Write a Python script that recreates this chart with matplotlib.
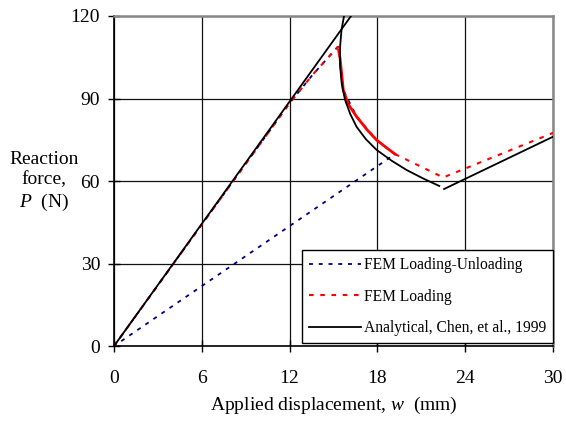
import matplotlib
matplotlib.use('Agg')
import matplotlib.pyplot as plt

plt.rcParams['font.family'] = ['Liberation Serif', 'DejaVu Serif']
plt.rcParams['mathtext.fontset'] = 'custom'
plt.rcParams['mathtext.it'] = 'Liberation Serif:italic'
plt.rcParams['mathtext.rm'] = 'Liberation Serif'

# FEM loading-unloading (loads along the loading path, unloads linearly)
lu_w = [0.0, 6.0, 12.0, 13.6, 15.3, 15.45, 15.67, 16.58, 17.95, 19.2, 0.0]
lu_p = [0.0, 44.2, 88.3, 98.8, 108.8, 104.6, 93.1, 83.4, 74.9, 69.8, 0.0]

# FEM loading
load_w = [0.0, 6.0, 12.0, 13.6, 15.3, 15.35, 15.45, 15.67, 16.0, 16.58, 17.3, 17.95, 18.6, 19.2,
          22.5, 30.0]
load_p = [0.0, 44.2, 88.3, 98.8, 108.8, 107.5, 104.6, 93.1, 88.0, 83.4, 78.6, 74.9, 72.2, 69.8,
          61.3, 77.5]
dense_from, dense_to = 5, 13  # points drawn so densely they look solid

# Analytical, Chen et al., 1999
lin_w = [0.0, 16.2]
lin_p = [0.0, 120.0]
unl_w = [15.72, 15.55, 15.45, 15.45, 15.56, 15.79, 16.15, 16.58, 17.2, 17.95, 19.0, 20.0, 21.1, 22.23]
unl_p = [120.0, 115.0, 108.8, 102.0, 95.5, 89.5, 84.3, 79.7, 75.3, 71.3, 67.3, 64.0, 61.0, 58.2]
rel_w = [22.56, 30.0]
rel_p = [57.1, 76.1]

fig = plt.figure(figsize=(5.66, 4.21), dpi=100)
ax = fig.add_axes([0.2014, 0.178, 0.7756, 0.784])

ax.grid(True, color='#111111', linewidth=0.9, zorder=0)
ax.set_axisbelow(True)

ax.plot(lu_w, lu_p, color='#000080', linestyle=(0, (2.2, 3.2)), linewidth=1.3, zorder=2,
        label='FEM Loading-Unloading')
ax.plot(load_w[:dense_from + 1], load_p[:dense_from + 1], color='red', linestyle=(0, (2.2, 3.2)),
        linewidth=1.5, zorder=3, label='FEM Loading')
ax.plot(load_w[dense_from:dense_to + 1], load_p[dense_from:dense_to + 1], color='red',
        linewidth=2.0, zorder=3)
ax.plot(load_w[dense_to:], load_p[dense_to:], color='red', linestyle=(0, (2.2, 3.2)),
        linewidth=1.5, zorder=3)
ax.plot(lin_w, lin_p, color='black', linewidth=1.3, zorder=4,
        label='Analytical, Chen, et al., 1999')
ax.plot(unl_w, unl_p, color='black', linewidth=1.3, zorder=4)
ax.plot(rel_w, rel_p, color='black', linewidth=1.3, zorder=4)

ax.set_xlim(0, 30)
ax.set_ylim(0, 120)
ax.set_xticks([0, 6, 12, 18, 24, 30])
ax.set_yticks([0, 30, 60, 90, 120])
ax.tick_params(direction='inout', length=8, width=1, labelsize=14, pad=6)
ax.tick_params(axis='x', pad=13)

for s in ['top', 'right']:
    ax.spines[s].set_color('#888888')
    ax.spines[s].set_linewidth(1.8)
for s in ['left', 'bottom']:
    ax.spines[s].set_color('black')
    ax.spines[s].set_linewidth(1.2)

ax.set_xlabel(r'Applied displacement, $w$  (mm)', fontsize=14, labelpad=6)
fig.text(0.078, 0.568, 'Reaction\nforce,\n' + r'$P$  (N)', fontsize=14, ha='center', va='center',
         linespacing=1.25)

leg = ax.legend(loc='lower right', bbox_to_anchor=(1.0, 0.008), fontsize=11.2, frameon=True,
                fancybox=False, edgecolor='black', framealpha=1, borderpad=0.45,
                handlelength=3.4, handletextpad=0.15, labelspacing=1.0, borderaxespad=0.0)
leg.get_frame().set_linewidth(1.0)

fig.savefig('out.png', dpi=100)
